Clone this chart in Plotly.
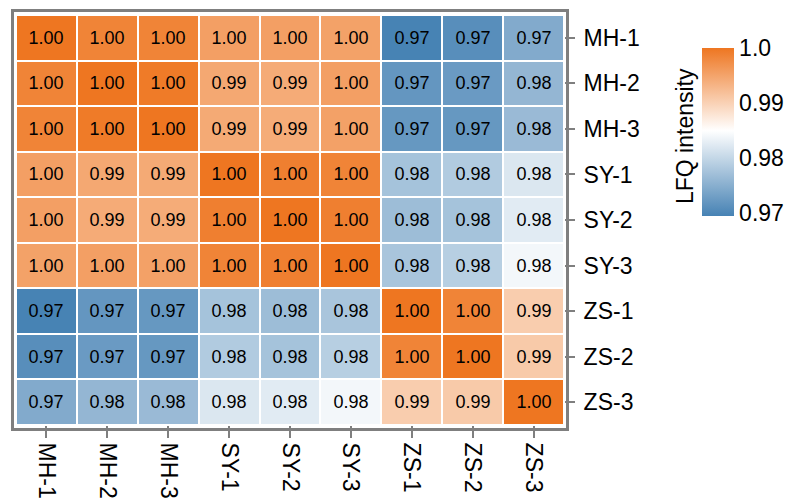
import plotly.graph_objects as go

# Sample labels (rows top-to-bottom, columns left-to-right)
samples = ["MH-1", "MH-2", "MH-3", "SY-1", "SY-2", "SY-3", "ZS-1", "ZS-2", "ZS-3"]

# Pairwise correlation of LFQ intensities (symmetric)
corr = [
    [1.0000, 0.9985, 0.9985, 0.9955, 0.9955, 0.9952, 0.9696, 0.9710, 0.9745],
    [0.9985, 1.0000, 0.9995, 0.9945, 0.9942, 0.9955, 0.9720, 0.9725, 0.9760],
    [0.9985, 0.9995, 1.0000, 0.9943, 0.9941, 0.9953, 0.9722, 0.9722, 0.9765],
    [0.9955, 0.9945, 0.9943, 1.0000, 0.9990, 0.9985, 0.9775, 0.9785, 0.9820],
    [0.9955, 0.9942, 0.9941, 0.9990, 1.0000, 0.9990, 0.9768, 0.9775, 0.9825],
    [0.9952, 0.9955, 0.9953, 0.9985, 0.9990, 1.0000, 0.9778, 0.9790, 0.9840],
    [0.9696, 0.9720, 0.9722, 0.9775, 0.9768, 0.9778, 1.0000, 0.9985, 0.9905],
    [0.9710, 0.9725, 0.9722, 0.9785, 0.9775, 0.9790, 0.9985, 1.0000, 0.9908],
    [0.9745, 0.9760, 0.9765, 0.9820, 0.9825, 0.9840, 0.9905, 0.9908, 1.0000],
]

cbar_vals = [0.97, 0.98, 0.99, 1.0]
cbar_text = ["0.97", "0.98", "0.99", "1.0"]

zmin, zmax, zmid = 0.9695, 1.0, 0.985
mid_frac = (zmid - zmin) / (zmax - zmin)

W, H = 800, 498
left, right, top, bottom = 16, 564, 15, 425
font = "Liberation Sans, Arial, sans-serif"
grey = "#7F7F7F"
label_size = 23

fig = go.Figure(
    go.Heatmap(
        z=corr,
        x=samples,
        y=samples,
        zmin=zmin,
        zmax=zmax,
        colorscale=[[0, "#4682B4"], [mid_frac, "#FFFFFF"], [1, "#EE7621"]],
        xgap=2,
        ygap=2,
        texttemplate="%{z:.2f}",
        textfont=dict(family=font, size=18, color="black"),
        hoverinfo="skip",
        colorbar=dict(
            thickness=32,
            len=168,
            lenmode="pixels",
            x=702 / W,
            xanchor="left",
            xref="container",
            xpad=0,
            y=1 - 58 / H,
            yanchor="top",
            yref="container",
            ypad=0,
            outlinewidth=0,
            tickvals=cbar_vals,
            ticktext=cbar_text,
            ticks="",
            tickfont=dict(family=font, size=label_size, color="black"),
        ),
    )
)

fig.update_xaxes(
    type="category",
    automargin=False,
    ticks="outside",
    ticklen=12,
    tickwidth=2,
    tickcolor=grey,
    tickangle=90,
    tickfont=dict(family=font, size=label_size, color="black"),
    showgrid=False,
    zeroline=False,
    showline=False,
)
fig.update_yaxes(
    type="category",
    automargin=False,
    autorange="reversed",
    side="right",
    ticks="outside",
    ticklen=10,
    tickwidth=2,
    tickcolor=grey,
    ticklabelstandoff=4,
    tickfont=dict(family=font, size=label_size, color="black"),
    showgrid=False,
    zeroline=False,
    showline=False,
)

# Panel border drawn around the tile grid
pw, ph = right - left, bottom - top
fig.add_shape(
    type="rect",
    xref="paper",
    yref="paper",
    x0=-3.5 / pw,
    x1=1 + 3.5 / pw,
    y0=-4.5 / ph,
    y1=1 + 4.5 / ph,
    line=dict(color=grey, width=3),
    fillcolor="rgba(0,0,0,0)",
    layer="above",
)

# Colour bar title, set vertically on its left
fig.add_annotation(
    text="LFQ intensity",
    xref="paper",
    yref="paper",
    x=(685 - left) / pw,
    y=1 - (136 - top) / ph,
    xanchor="center",
    yanchor="middle",
    textangle=-90,
    showarrow=False,
    font=dict(family=font, size=label_size, color="black"),
)

fig.update_layout(
    width=W,
    height=H,
    margin=dict(l=left, r=W - right, t=top, b=H - bottom, pad=0, autoexpand=False),
    plot_bgcolor="white",
    paper_bgcolor="white",
)

fig.write_html("out.html")
